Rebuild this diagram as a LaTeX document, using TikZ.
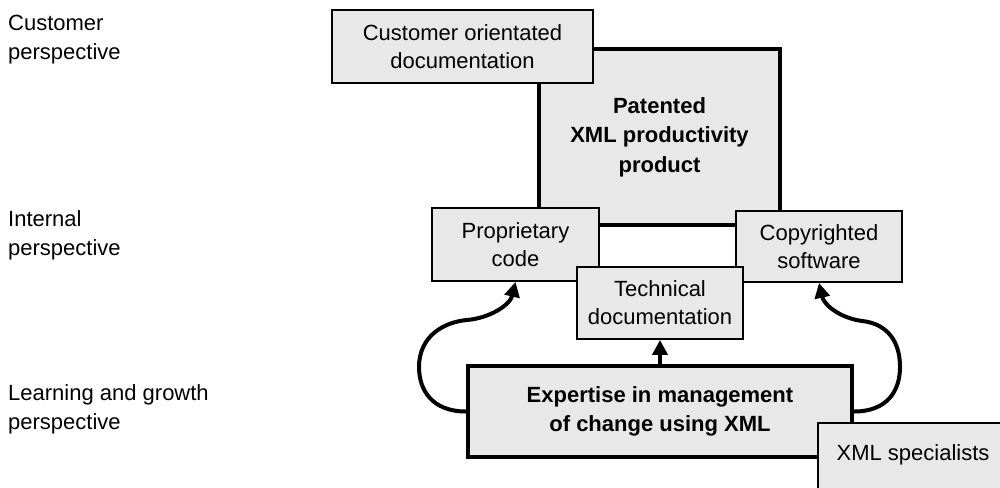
\documentclass[tikz,border=0pt]{standalone}
\usepackage{fontspec}
\setmainfont{Liberation Sans}
\usetikzlibrary{arrows.meta}
\definecolor{boxfill}{HTML}{E8E8E8}
\tikzset{
  thinbox/.style={draw=black, line width=1.8pt, fill=boxfill, inner sep=0pt,
    align=center, font=\fontsize{22}{28}\selectfont},
  thickbox/.style={draw=black, line width=4pt, fill=boxfill, inner sep=0pt,
    align=center, font=\fontsize{22}{29.5}\selectfont\bfseries},
  sidelabel/.style={anchor=west, align=left, inner sep=0pt,
    font=\fontsize{22}{29}\selectfont},
  link/.style={line width=4pt, -{Triangle[length=15pt,width=15pt]}}
}
\begin{document}
\begin{tikzpicture}[x=1pt, y=-1pt]
  \clip (0,0) rectangle (1000,487);
  \fill[white] (0,0) rectangle (1000,487);

  % perspective labels
  \node[sidelabel] (lcust) at (8,40)  {Customer\\perspective};
  \node[sidelabel] (lint)  at (8,235) {Internal\\perspective};
  \node[sidelabel] (llrn)  at (8,409) {Learning and growth\\perspective};

  % boxes, back to front
  \node[thickbox, minimum width=241pt, minimum height=176pt] (prod) at (659.5,137)
    {Patented\\XML productivity\\product};
  \node[thinbox, minimum width=261pt, minimum height=73pt] (cust) at (462.5,46.5)
    {Customer orientated\\documentation};
  \node[thinbox, minimum width=167pt, minimum height=73pt] (prop) at (515.5,244.5)
    {Proprietary\\code};
  \node[thinbox, minimum width=166pt, minimum height=71pt] (copy) at (819,246.5)
    {Copyrighted\\software};
  \node[thinbox, minimum width=166pt, minimum height=72pt] (tech) at (660,303)
    {Technical\\documentation};
  \node[thickbox, minimum width=384pt, minimum height=91pt] (exp) at (660,411.5)
    {Expertise in management\\of change using XML};
  % this box runs past the lower right corner of the page
  \node[thinbox, minimum width=190pt, minimum height=72pt, text depth=13pt] (spec)
    at (913,459) {XML specialists};

  % connectors
  \draw[link] (exp.north) -- (tech.south);
  \draw[link] (exp.west)
    .. controls (432,411.5) and (419,390) .. (419,367)
    .. controls (419,336) and (444,322) .. (467,320)
    .. controls (490,318) and (510,305) .. (prop.south);
  \draw[link] (exp.east)
    .. controls (888,411.5) and (900,390) .. (900,367)
    .. controls (900,336) and (882,323) .. (862,321)
    .. controls (840,318) and (824,305) .. (copy.south);
\end{tikzpicture}
\end{document}
